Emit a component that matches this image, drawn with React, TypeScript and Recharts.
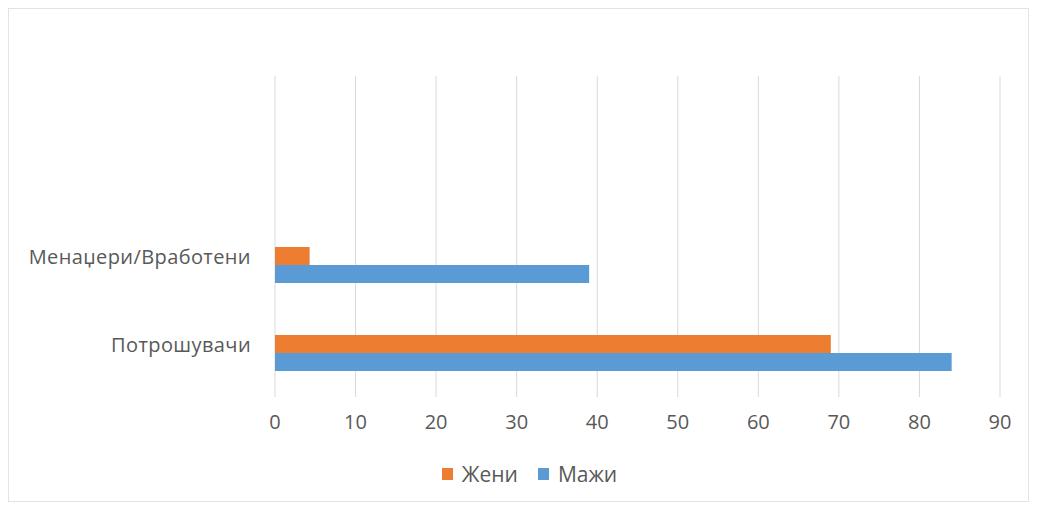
import React from 'react';
import { BarChart, Bar, XAxis, YAxis, CartesianGrid, Legend } from 'recharts';

const categories = ['Менаџери/Вработени', 'Потрошувачи'];
const zheni = [4.3, 69];
const mazhi = [39, 84];
const xTicks = [0, 10, 20, 30, 40, 50, 60, 70, 80, 90];

const data = categories.map((name, i) => ({ name, zheni: zheni[i], mazhi: mazhi[i] }));

const FONT = '"Open Sans", sans-serif';
const TEXT = '#595959';

const legendItems = [
    { label: 'Жени', color: '#ED7D31' },
    { label: 'Мажи', color: '#5B9BD5' },
];

const LegendContent = () => (
    <div style={{ height: 54, paddingLeft: 50, display: 'flex', justifyContent: 'center', alignItems: 'center', gap: 20, fontFamily: FONT, fontSize: 21, color: TEXT }}>
        {legendItems.map((item) => (
            <div key={item.label} style={{ display: 'flex', alignItems: 'center', gap: 9 }}>
                <span style={{ display: 'inline-block', width: 11, height: 12, backgroundColor: item.color }} />
                <span>{item.label}</span>
            </div>
        ))}
    </div>
);

// category labels sit slightly above the middle of their band
const CategoryTick = ({ x, y, payload }: any) => (
    <text x={x} y={y - 8} dy="0.36em" textAnchor="end" fill={TEXT} fontSize={20} fontFamily={FONT} letterSpacing={0.4}>
        {payload.value}
    </text>
);

export default function App() {
    return (
        <div style={{ width: 1021, height: 494, border: '1px solid #e3e3e3', boxSizing: 'border-box', background: '#fff' }}>
            <BarChart
                width={1019}
                height={492}
                data={data}
                layout="vertical"
                margin={{ top: 67, right: 28, bottom: 0, left: 0 }}
                barGap={0}
                barSize={18}
            >
                <CartesianGrid horizontal={false} stroke="#d9d9d9" />
                <XAxis
                    type="number"
                    domain={[0, 90]}
                    ticks={xTicks}
                    axisLine={false}
                    tickLine={false}
                    tickMargin={12}
                    height={50}
                    tick={{ fill: TEXT, fontSize: 20, fontFamily: FONT }}
                />
                <YAxis
                    type="category"
                    dataKey="name"
                    width={266}
                    padding={{ top: 145, bottom: 0 }}
                    axisLine={false}
                    tickLine={false}
                    tickMargin={18}
                    tick={<CategoryTick />}
                />
                <Legend verticalAlign="bottom" height={54} content={<LegendContent />} />
                <Bar dataKey="zheni" name="Жени" fill="#ED7D31" isAnimationActive={false} />
                <Bar dataKey="mazhi" name="Мажи" fill="#5B9BD5" isAnimationActive={false} />
            </BarChart>
        </div>
    );
}
